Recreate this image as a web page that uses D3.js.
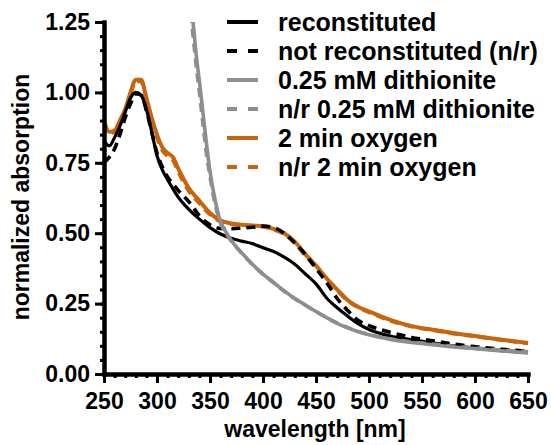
<!DOCTYPE html>
<html lang="en">
<head>
<meta charset="UTF-8">
<title>Normalized absorption spectra</title>
<style>
    body { margin: 0; background: #fff; }
    svg { font-family: "Liberation Sans", Arial, sans-serif; font-weight: bold; }
</style>
</head>
<body>
<div id="chart"></div>
<script src="https://cdnjs.cloudflare.com/ajax/libs/d3/7.8.5/d3.min.js"></script>
<script>
    // wavelengths shared by the heme-region spectra
    var wavelengths = [250, 255, 260, 265, 270, 275, 280, 285, 290, 295, 300, 305, 310, 315, 320, 330, 340, 350,
                       360, 370, 380, 390, 400, 410, 420, 430, 440, 450, 460, 470, 480, 490, 500, 520, 540, 560,
                       580, 600, 625, 650];

    var reconstituted = [0.83, 0.81, 0.84, 0.88, 0.93, 0.98, 1.00, 0.99, 0.94, 0.86, 0.775, 0.725, 0.69, 0.658,
                         0.628, 0.585, 0.55, 0.52, 0.497, 0.482, 0.472, 0.463, 0.448, 0.435, 0.415, 0.39, 0.355,
                         0.32, 0.27, 0.235, 0.205, 0.178, 0.158, 0.135, 0.122, 0.111, 0.100, 0.092, 0.083, 0.076];

    var notReconstituted = [0.75, 0.77, 0.80, 0.85, 0.91, 0.96, 0.995, 0.99, 0.935, 0.86, 0.785, 0.735, 0.70,
                            0.675, 0.652, 0.612, 0.562, 0.53, 0.517, 0.516, 0.518, 0.521, 0.525, 0.52, 0.50, 0.465,
                            0.425, 0.375, 0.325, 0.268, 0.225, 0.19, 0.172, 0.148, 0.13, 0.118, 0.106, 0.097,
                            0.088, 0.08];

    var oxygen2min = [0.90, 0.86, 0.865, 0.90, 0.94, 1.00, 1.045, 1.045, 0.98, 0.91, 0.85, 0.805, 0.785, 0.77,
                      0.73, 0.66, 0.615, 0.572, 0.545, 0.535, 0.53, 0.527, 0.525, 0.515, 0.50, 0.47, 0.425, 0.385,
                      0.34, 0.30, 0.262, 0.238, 0.222, 0.192, 0.17, 0.157, 0.145, 0.135, 0.122, 0.11];

    var nrOxygen2min = [0.895, 0.855, 0.86, 0.895, 0.935, 0.995, 1.04, 1.04, 0.975, 0.90, 0.84, 0.795, 0.775,
                        0.76, 0.72, 0.65, 0.607, 0.567, 0.542, 0.533, 0.529, 0.526, 0.524, 0.513, 0.497, 0.466,
                        0.42, 0.38, 0.336, 0.297, 0.26, 0.236, 0.22, 0.19, 0.169, 0.156, 0.144, 0.134, 0.121, 0.109];

    // dithionite spectra rise steeply below ~335 nm
    var dithWavelengths = [332, 334, 336, 338, 340, 343, 346, 350, 355, 360, 365, 370, 380, 390, 400, 410, 420,
                           430, 440, 450, 460, 470, 480, 490, 500, 520, 540, 560, 580, 600, 625, 650];

    var dithionite = [1.32, 1.25, 1.17, 1.10, 1.04, 0.94, 0.84, 0.72, 0.615, 0.54, 0.505, 0.475, 0.43, 0.39, 0.355,
                      0.325, 0.295, 0.268, 0.245, 0.222, 0.20, 0.18, 0.164, 0.15, 0.139, 0.123, 0.112, 0.104,
                      0.096, 0.09, 0.082, 0.075];

    var nrDithionite = [1.28, 1.20, 1.13, 1.06, 1.00, 0.90, 0.80, 0.70, 0.60, 0.535, 0.50, 0.472, 0.428, 0.389,
                        0.354, 0.324, 0.294, 0.267, 0.244, 0.222, 0.20, 0.181, 0.165, 0.151, 0.14, 0.125, 0.114,
                        0.106, 0.098, 0.092, 0.085, 0.079];

    var xTicks = [250, 300, 350, 400, 450, 500, 550, 600, 650];
    var yTicks = [0, 0.25, 0.5, 0.75, 1.0, 1.25];

    var black = "#000", gray = "#8e8e8e", orange = "#c8650c";

    var series = [
        { name: "2 min oxygen", x: wavelengths, y: oxygen2min, color: orange, dash: null, w: 4 },
        { name: "n/r 2 min oxygen", x: wavelengths, y: nrOxygen2min, color: orange, dash: "9,6", w: 4 },
        { name: "reconstituted", x: wavelengths, y: reconstituted, color: black, dash: null, w: 3.2 },
        { name: "not reconstituted (n/r)", x: wavelengths, y: notReconstituted, color: black, dash: "9,6", w: 3.6 },
        { name: "0.25 mM dithionite", x: dithWavelengths, y: dithionite, color: gray, dash: null, w: 3.6 },
        { name: "n/r 0.25 mM dithionite", x: dithWavelengths, y: nrDithionite, color: gray, dash: "9,6", w: 3.6 }
    ];
    var legendOrder = ["reconstituted", "not reconstituted (n/r)", "0.25 mM dithionite",
                       "n/r 0.25 mM dithionite", "2 min oxygen", "n/r 2 min oxygen"];

    var width = 551, height = 445;
    var margin = {top: 22, right: 23, bottom: 71, left: 104};

    var svg = d3.select("#chart").append("svg")
        .attr("width", width)
        .attr("height", height);

    var x = d3.scaleLinear().domain([250, 650]).range([margin.left, width - margin.right]);
    var y = d3.scaleLinear().domain([0, 1.25]).range([height - margin.bottom, margin.top]);

    svg.append("clipPath").attr("id", "plotclip")
      .append("rect")
        .attr("x", margin.left)
        .attr("y", margin.top)
        .attr("width", width - margin.left - margin.right + 2)
        .attr("height", height - margin.top - margin.bottom);

    var line = d3.line()
        .x(function(d) { return x(d[0]); })
        .y(function(d) { return y(d[1]); })
        .curve(d3.curveMonotoneX);

    var curves = svg.append("g").attr("clip-path", "url(#plotclip)");
    series.forEach(function(s) {
        curves.append("path")
            .datum(d3.zip(s.x, s.y))
            .attr("d", line)
            .attr("fill", "none")
            .attr("stroke", s.color)
            .attr("stroke-width", s.w)
            .attr("stroke-dasharray", s.dash)
            .attr("stroke-linejoin", "round");
    });

    // axes: major ticks with labels, minor ticks without
    var xMinor = d3.range(250, 651, 10);
    var yMinor = d3.range(0, 1.2501, 0.05);

    var gx = svg.append("g").attr("transform", "translate(0," + y(0) + ")");
    gx.append("g")
        .call(d3.axisBottom(x).tickValues(xMinor).tickSize(4).tickFormat("").tickSizeOuter(0));
    gx.append("g")
        .call(d3.axisBottom(x).tickValues(xTicks).tickSize(9).tickPadding(10).tickSizeOuter(0)
              .tickFormat(d3.format("d")));

    var gy = svg.append("g").attr("transform", "translate(" + x(250) + ",0)");
    gy.append("g")
        .call(d3.axisLeft(y).tickValues(yMinor).tickSize(4).tickFormat("").tickSizeOuter(0));
    gy.append("g")
        .call(d3.axisLeft(y).tickValues(yTicks).tickSize(9).tickPadding(5).tickSizeOuter(0)
              .tickFormat(d3.format(".2f")));

    svg.selectAll(".domain")
        .attr("stroke", "#000")
        .attr("stroke-width", 4)
        .attr("stroke-linecap", "square");
    svg.selectAll(".tick line")
        .attr("stroke", "#000")
        .attr("stroke-width", 3);
    svg.selectAll(".tick text")
        .attr("fill", "#000")
        .style("font-size", "23px")
        .style("font-weight", "bold")
        .style("font-family", "'Liberation Sans', Arial, sans-serif");

    // axis titles
    svg.append("text")
        .attr("x", 315)
        .attr("y", 437)
        .attr("text-anchor", "middle")
        .style("font-size", "23px")
        .text("wavelength [nm]");

    svg.append("text")
        .attr("transform", "translate(29," + 197 + ") rotate(-90)")
        .attr("text-anchor", "middle")
        .style("font-size", "23px")
        .text("normalized absorption");

    // legend
    var legend = svg.append("g");
    legendOrder.forEach(function(name, i) {
        var s = series.find(function(d) { return d.name === name; });
        var ly = 22 + i * 29;
        legend.append("line")
            .attr("x1", 227).attr("x2", 258)
            .attr("y1", ly).attr("y2", ly)
            .attr("stroke", s.color)
            .attr("stroke-width", 4)
            .attr("stroke-dasharray", s.dash ? "10,11" : null);
        legend.append("text")
            .attr("x", 278)
            .attr("y", ly)
            .attr("dy", "0.35em")
            .style("font-size", "25px")
            .text(name);
    });
</script>
</body>
</html>
